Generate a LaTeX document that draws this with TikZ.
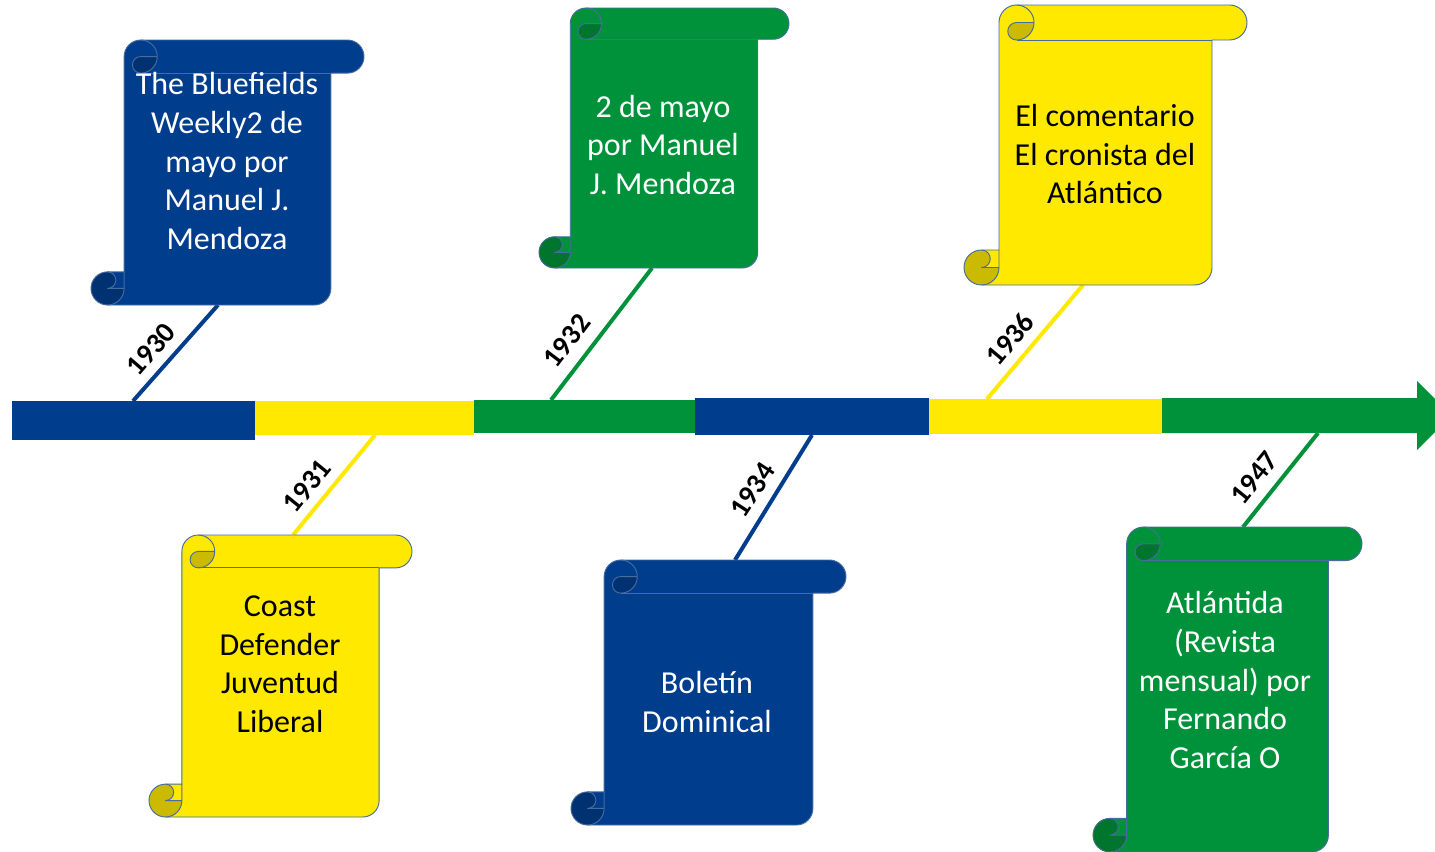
\documentclass[tikz,border=0pt]{standalone}
\usepackage{fontspec}
\setmainfont{Carlito}
\definecolor{cblue}{RGB}{0,61,141}
\definecolor{cyel}{RGB}{255,233,0}
\definecolor{cgrn}{RGB}{0,146,58}
\definecolor{cblued}{RGB}{0,49,113}
\definecolor{cyeld}{RGB}{204,186,0}
\definecolor{cgrnd}{RGB}{0,117,46}
\definecolor{scrout}{RGB}{72,108,158}
\tikzset{
  scrline/.style={draw=scrout, line width=0.7pt, line join=round},
  stem/.style={line width=3pt},
  scrtext/.style={align=center, font=\fontsize{24}{28.9}\selectfont, inner sep=0pt},
  yearlbl/.style={font=\fontsize{21.5}{24}\selectfont\bfseries, inner sep=0pt, text=black},
}
\newcommand\vscroll[6]{%
 \pgfmathsetmacro\scrCh{0.125*min(#3-#1,#4-#2)}%
 \pgfmathsetmacro\scrChh{\scrCh/2}%
 \pgfmathsetmacro\scrChq{\scrCh/4}%
 \pgfmathsetmacro\scrXa{#1+\scrCh}%
 \pgfmathsetmacro\scrXc{#1+1.5*\scrCh}%
 \pgfmathsetmacro\scrXd{#1+2*\scrCh}%
 \pgfmathsetmacro\scrXf{#3-\scrCh}%
 \pgfmathsetmacro\scrXg{#3-\scrChh}%
 \pgfmathsetmacro\scrXh{#1+\scrChh}%
 \pgfmathsetmacro\scrYa{#2+\scrChh}%
 \pgfmathsetmacro\scrYb{#2+\scrCh}%
 \pgfmathsetmacro\scrYc{#4-\scrCh}%
 \pgfmathsetmacro\scrYd{#4-\scrChh}%
 \fill[#5] (\scrXa,\scrYc) -- (\scrXa,\scrYa) arc[start angle=180,end angle=270,radius=\scrChh] -- (\scrXg,#2) arc[start angle=270,end angle=450,radius=\scrChh] -- (\scrXf,\scrYb) -- (\scrXf,\scrYd) arc[start angle=0,end angle=90,radius=\scrChh] -- (\scrXh,#4) arc[start angle=90,end angle=270,radius=\scrChh] -- cycle;
 \fill[#6] (\scrXd,\scrYa) arc[start angle=0,end angle=90,radius=\scrChh] arc[start angle=90,end angle=270,radius=\scrChq] -- cycle;
 \fill[#6] (\scrXa,\scrYd) arc[start angle=0,end angle=270,radius=\scrChh] arc[start angle=270,end angle=450,radius=\scrChq] -- cycle;
 \draw[scrline] (\scrXa,\scrYc) -- (\scrXa,\scrYa) arc[start angle=180,end angle=270,radius=\scrChh] -- (\scrXg,#2) arc[start angle=270,end angle=450,radius=\scrChh] -- (\scrXf,\scrYb) -- (\scrXf,\scrYd) arc[start angle=0,end angle=90,radius=\scrChh] -- (\scrXh,#4) arc[start angle=90,end angle=270,radius=\scrChh] -- cycle;
 \draw[scrline] (\scrXc,#2) arc[start angle=270,end angle=450,radius=\scrChh] arc[start angle=90,end angle=270,radius=\scrChq] -- (\scrXd,\scrYa);
 \draw[scrline] (\scrXf,\scrYb) -- (\scrXc,\scrYb);
 \draw[scrline] (\scrXh,\scrYc) arc[start angle=270,end angle=450,radius=\scrChq] -- (\scrXa,\scrYd);
 \draw[scrline] (\scrXh,#4) arc[start angle=90,end angle=0,radius=\scrChh] -- (\scrXa,\scrYc);
}
\begin{document}
\begin{tikzpicture}[x=0.75pt,y=-0.75pt]
\clip (0,0) rectangle (1435,851);
\fill[white] (0,0) rectangle (1435,851);
% timeline bars
\fill[cblue] (12,401) rectangle (255,440);
\fill[cyel] (255,401) rectangle (474,435);
\fill[cgrn] (474,400) rectangle (695,433);
\fill[cblue] (695,398) rectangle (929,435);
\fill[cyel] (929,399) rectangle (1162,434);
\fill[cgrn] (1162,398) -- (1417,398) -- (1417,381) -- (1451.5,415.5) -- (1417,450) -- (1417,433) -- (1162,433) -- cycle;
% attachment points
\coordinate (b1) at (133,401);
\coordinate (b2) at (375,435);
\coordinate (b3) at (551,400);
\coordinate (b4) at (812,435);
\coordinate (b5) at (987,399);
\coordinate (b6) at (1318,433);
\coordinate (s1) at (218,305);
\coordinate (s2) at (293,535);
\coordinate (s3) at (652,268);
\coordinate (s4) at (735,560);
\coordinate (s5) at (1083,285);
\coordinate (s6) at (1243,527);
% stems
\draw[stem,cblue] (b1) -- (s1);
\draw[stem,cyel] (b2) -- (s2);
\draw[stem,cgrn] (b3) -- (s3);
\draw[stem,cblue] (b4) -- (s4);
\draw[stem,cyel] (b5) -- (s5);
\draw[stem,cgrn] (b6) -- (s6);
% scrolls
\vscroll{91}{40}{364}{305}{cblue}{cblued}
\vscroll{149}{535}{412}{817}{cyel}{cyeld}
\vscroll{539}{8}{789}{268}{cgrn}{cgrnd}
\vscroll{571}{560}{846}{825}{cblue}{cblued}
\vscroll{964}{5}{1247}{285}{cyel}{cyeld}
\vscroll{1093}{527}{1362}{852}{cgrn}{cgrnd}
% texts
\node[scrtext,text=white] (t1) at (227,161) {The Bluefields\\Weekly2 de\\mayo por\\Manuel J.\\Mendoza};
\node[scrtext,text=black] (t2) at (280,664) {Coast\\Defender\\Juventud\\Liberal};
\node[scrtext,text=white] (t3) at (663,145) {2 de mayo\\por Manuel\\J. Mendoza};
\node[scrtext,text=black] (t5) at (1105,154) {El comentario\\El cronista del\\Atlántico};
\node[scrtext,text=white] (t4) at (707,702) {Boletín\\Dominical};
\node[scrtext,text=white] (t6) at (1225,680) {Atlántida\\(Revista\\mensual) por\\Fernando\\García O};
% years
\node[yearlbl,rotate=49] (y1) at (151,349) {1930};
\node[yearlbl,rotate=51] (y2) at (307,486) {1931};
\node[yearlbl,rotate=53] (y3) at (567,341) {1932};
\node[yearlbl,rotate=57] (y4) at (753,490) {1934};
\node[yearlbl,rotate=50] (y5) at (1010,339) {1936};
\node[yearlbl,rotate=51] (y6) at (1254,478) {1947};
\end{tikzpicture}
\end{document}
